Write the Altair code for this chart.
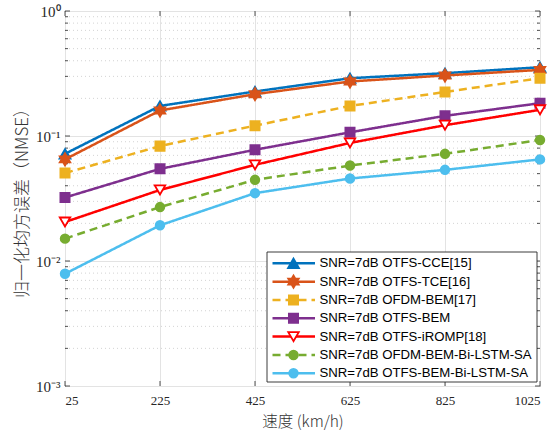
import math
import altair as alt
import pandas as pd

# Speed (km/h) and NMSE of each estimator at SNR = 7 dB
speeds = [25, 225, 425, 625, 825, 1025]
nmse_otfs_cce = [0.072, 0.174, 0.227, 0.290, 0.318, 0.355]
nmse_otfs_tce = [0.065, 0.160, 0.216, 0.273, 0.305, 0.338]
nmse_ofdm_bem = [0.0505, 0.083, 0.121, 0.174, 0.225, 0.290]
nmse_otfs_bem = [0.0322, 0.0546, 0.0776, 0.107, 0.145, 0.183]
nmse_otfs_iromp = [0.0205, 0.037, 0.0588, 0.088, 0.122, 0.162]
nmse_ofdm_lstm = [0.0151, 0.027, 0.0446, 0.058, 0.072, 0.093]
nmse_otfs_lstm = [0.0079, 0.0193, 0.0349, 0.0457, 0.0536, 0.065]

series_names = [
    "SNR=7dB OTFS-CCE[15]",
    "SNR=7dB OTFS-TCE[16]",
    "SNR=7dB OFDM-BEM[17]",
    "SNR=7dB OTFS-BEM",
    "SNR=7dB OTFS-iROMP[18]",
    "SNR=7dB OFDM-BEM-Bi-LSTM-SA",
    "SNR=7dB OTFS-BEM-Bi-LSTM-SA",
]
series_values = [nmse_otfs_cce, nmse_otfs_tce, nmse_ofdm_bem, nmse_otfs_bem,
                 nmse_otfs_iromp, nmse_ofdm_lstm, nmse_otfs_lstm]

y_major = [1e-3, 1e-2, 1e-1, 1.0]
y_minor = [m * 10.0 ** e for e in (-3, -2, -1) for m in range(2, 10)]

# six-pointed star marker
star_pts = []
for k in range(12):
    a = math.radians(-90 + 30 * k)
    r = 1.0 if k % 2 == 0 else 0.577
    star_pts.append(f"{r * math.cos(a):.3f},{r * math.sin(a):.3f}")
HEXAGRAM = "M" + " L".join(star_pts) + " Z"

styles = [
    dict(color="#0072BD", shape="triangle-up", size=120, dash=[1, 0], fill="#0072BD"),
    dict(color="#D95319", shape=HEXAGRAM, size=150, dash=[1, 0], fill="#D95319"),
    dict(color="#EDB120", shape="square", size=85, dash=[8, 5], fill="#EDB120"),
    dict(color="#7E2F8E", shape="square", size=85, dash=[1, 0], fill="#7E2F8E"),
    dict(color="#FF0000", shape="triangle-down", size=110, dash=[1, 0], fill="white"),
    dict(color="#77AC30", shape="circle", size=75, dash=[8, 5], fill="#77AC30"),
    dict(color="#4DBEEE", shape="circle", size=75, dash=[1, 0], fill="#4DBEEE"),
]

W, H = 475, 375
AX = "#262626"
x_scale = alt.Scale(domain=[25, 1025], nice=False, zero=False)
y_scale = alt.Scale(type="log", domain=[1e-3, 1], nice=False)

label_expr = ("datum.value >= 0.5 ? '10\u2070' : datum.value >= 0.05 ? '10\u207b\u00b9' : "
              "datum.value >= 0.005 ? '10\u207b\u00b2' : '10\u207b\u00b3'")

y_axis = alt.Axis(values=y_major, labelExpr=label_expr, grid=True, gridColor="#e3e3e3",
                  gridWidth=1, ticks=False, domain=False, labelFont="Liberation Serif",
                  labelFontSize=15, labelColor=AX, labelPadding=5,
                  title="归一化均方误差（NMSE）", titleFont="Noto Sans CJK SC",
                  titleFontSize=17, titleFontWeight=300, titleColor="#333333",
                  titlePadding=4)
x_axis = alt.Axis(values=speeds, format="d", grid=True, gridColor="#e3e3e3", gridWidth=1,
                  ticks=False, domain=False, labelFont="Liberation Serif", labelFontSize=13,
                  labelColor=AX, labelPadding=8, title="速度 (km/h)",
                  titleFont="Noto Sans CJK SC", titleFontSize=15.5, titleFontWeight=300,
                  titleColor="#333333", titlePadding=7)

minor_df = pd.DataFrame({"v": y_minor})
major_df = pd.DataFrame({"v": y_major})
xt_df = pd.DataFrame({"s": speeds})

layers = []
# dotted minor grid
layers.append(alt.Chart(minor_df).mark_rule(color="#c8c8c8", strokeDash=[1, 3], strokeWidth=0.8).encode(
    y=alt.Y("v:Q", scale=y_scale, axis=y_axis), x=alt.value(0), x2=alt.value(W)))

# inward ticks on all four sides
for df, x0, x1 in [(major_df, 0, 5), (minor_df, 0, 3), (major_df, W - 5, W), (minor_df, W - 3, W)]:
    layers.append(alt.Chart(df).mark_rule(color=AX, strokeWidth=0.8).encode(
        y=alt.Y("v:Q", scale=y_scale, axis=y_axis), x=alt.value(x0), x2=alt.value(x1)))
for y0, y1 in [(H - 5, H), (0, 5)]:
    layers.append(alt.Chart(xt_df).mark_rule(color=AX, strokeWidth=0.8).encode(
        x=alt.X("s:Q", scale=x_scale, axis=x_axis),
        y=alt.value(y0), y2=alt.value(y1)))

# data series
for name, vals, st in zip(series_names, series_values, styles):
    df = pd.DataFrame({"speed": speeds, "nmse": vals, "series": name})
    base = alt.Chart(df).encode(
        x=alt.X("speed:Q", scale=x_scale, axis=x_axis),
        y=alt.Y("nmse:Q", scale=y_scale, axis=y_axis))
    layers.append(base.mark_line(color=st["color"], strokeWidth=2.5, strokeDash=st["dash"]))
    layers.append(base.mark_point(shape=st["shape"], size=st["size"], filled=True,
                                  fill=st["fill"], stroke=st["color"], strokeWidth=1.8,
                                  opacity=1))

# legend box
LX0, LX1, LY0, LY1 = 202, 472, 241, 371
layers.append(alt.Chart(pd.DataFrame({"a": [0]})).mark_rect(
    fill="white", stroke=AX, strokeWidth=0.9).encode(
    x=alt.value(LX0), x2=alt.value(LX1), y=alt.value(LY0), y2=alt.value(LY1)))
for i, (name, st) in enumerate(zip(series_names, styles)):
    ry = 252.3 + i * 18.33
    one = alt.Chart(pd.DataFrame({"label": [name]}))
    layers.append(one.mark_rule(color=st["color"], strokeWidth=2.5, strokeDash=st["dash"]).encode(
        x=alt.value(207.5), x2=alt.value(250), y=alt.value(ry)))
    layers.append(one.mark_point(shape=st["shape"], size=st["size"], filled=True,
                                 fill=st["fill"], stroke=st["color"], strokeWidth=1.8,
                                 opacity=1).encode(x=alt.value(228.5), y=alt.value(ry)))
    layers.append(one.mark_text(align="left", baseline="middle", font="Liberation Sans",
                                fontSize=13.2, color="black").encode(
        x=alt.value(254.5), y=alt.value(ry), text="label:N"))

chart = alt.layer(*layers).properties(
    width=W, height=H,
    padding={"left": 65, "top": 11, "right": 15, "bottom": 50},
    autosize=alt.AutoSizeParams(type="none"),
    background="white",
).configure_view(stroke=AX, strokeWidth=1)

chart.save("out.html", embed_options={"renderer": "svg", "actions": False})
